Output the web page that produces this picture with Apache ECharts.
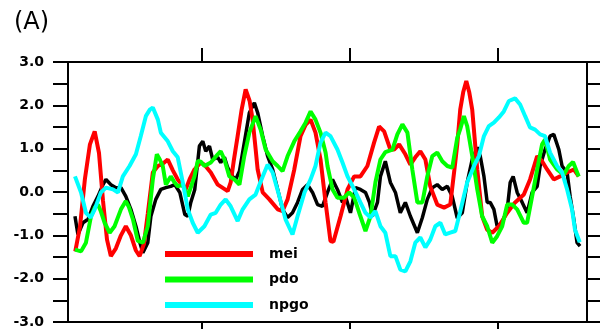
<!DOCTYPE html>
<html>
<head>
<meta charset="utf-8">
<script src="https://cdn.jsdelivr.net/npm/echarts@6/dist/echarts.min.js"></script>
<style>html,body{margin:0;padding:0;background:#fff}#c{width:600px;height:329px}</style>
</head>
<body>
<div id="c"></div>
<script>
// [decimal year, value]
const mei = [[1981.49,-1.37],[1981.81,-0.8],[1982.14,0.3],[1982.48,1.1],[1982.80,1.40],[1983.09,0.9],[1983.36,-0.2],[1983.63,-1.1],[1983.89,-1.48],[1984.23,-1.3],[1984.57,-1.0],[1984.90,-0.79],[1985.24,-1.0],[1985.58,-1.35],[1985.83,-1.48],[1986.12,-1.2],[1986.38,-0.5],[1986.72,0.45],[1987.06,0.6],[1987.39,0.65],[1987.73,0.75],[1988.07,0.5],[1988.40,0.29],[1988.94,0.06],[1989.21,0.3],[1989.53,0.52],[1989.95,0.68],[1990.20,0.63],[1990.63,0.45],[1991.10,0.17],[1991.77,0.02],[1991.97,0.22],[1992.17,0.7],[1992.44,1.29],[1992.71,1.9],[1992.98,2.37],[1993.25,2.1],[1993.45,1.67],[1993.65,1.0],[1993.79,0.52],[1994.13,-0.01],[1994.58,-0.17],[1995.14,-0.4],[1995.47,-0.44],[1995.81,-0.17],[1996.26,0.52],[1996.68,1.29],[1997.02,1.55],[1997.36,1.67],[1997.69,1.37],[1998.03,0.75],[1998.37,-0.24],[1998.70,-1.13],[1998.90,-1.15],[1999.38,-0.56],[1999.85,0.06],[2000.30,0.36],[2000.72,0.36],[2001.19,0.6],[2001.64,1.14],[2001.98,1.51],[2002.32,1.4],[2002.74,0.98],[2002.99,0.98],[2003.33,1.1],[2003.75,0.87],[2004.09,0.63],[2004.42,0.8],[2004.76,0.94],[2005.10,0.75],[2005.43,0.13],[2005.90,-0.29],[2006.36,-0.36],[2006.78,-0.29],[2007.12,0.7],[2007.25,1.1],[2007.45,1.9],[2007.65,2.3],[2007.86,2.56],[2008.06,2.3],[2008.26,1.9],[2008.60,0.52],[2008.93,-0.56],[2009.27,-0.87],[2009.61,-0.94],[2010.06,-0.79],[2010.62,-0.48],[2011.15,-0.24],[2011.74,-0.06],[2012.16,0.29],[2012.64,0.83],[2012.97,0.71],[2013.31,0.52],[2013.76,0.29],[2014.18,0.36],[2014.66,0.45],[2015.11,0.52],[2015.44,0.36]];

const pdo = [[1981.47,-1.33],[1981.88,-1.37],[1982.21,-1.17],[1982.55,-0.56],[1982.82,-0.35],[1983.02,-0.29],[1983.22,-0.45],[1983.47,-0.71],[1983.81,-0.94],[1984.14,-0.79],[1984.57,-0.4],[1984.90,-0.21],[1985.11,-0.35],[1985.38,-0.63],[1985.71,-1.13],[1986.05,-1.17],[1986.38,-0.79],[1986.72,0.29],[1986.99,0.87],[1987.19,0.75],[1987.39,0.6],[1987.60,0.17],[1987.93,0.36],[1988.13,0.25],[1988.40,0.13],[1988.74,0.17],[1989.08,-0.1],[1989.53,0.36],[1989.75,0.72],[1989.95,0.7],[1990.20,0.6],[1990.63,0.68],[1991.10,0.87],[1991.30,0.94],[1991.55,0.75],[1991.88,0.36],[1992.22,0.29],[1992.56,0.17],[1992.89,0.83],[1993.23,1.37],[1993.65,1.75],[1993.99,1.44],[1994.33,0.98],[1994.80,0.71],[1995.14,0.6],[1995.47,0.48],[1995.81,0.83],[1996.26,1.17],[1996.68,1.4],[1997.02,1.6],[1997.36,1.86],[1997.69,1.67],[1998.03,1.37],[1998.37,0.91],[1998.50,0.6],[1998.84,0.06],[1999.17,-0.13],[1999.62,-0.13],[1999.96,-0.01],[2000.30,-0.13],[2000.72,-0.56],[2001.06,-0.9],[2001.40,-0.56],[2001.73,0.22],[2002.07,0.75],[2002.40,0.92],[2002.88,0.98],[2003.21,1.33],[2003.55,1.56],[2003.89,1.37],[2004.22,0.52],[2004.56,-0.24],[2004.90,-0.24],[2005.23,0.36],[2005.57,0.83],[2005.90,0.91],[2006.24,0.71],[2006.58,0.6],[2006.91,0.56],[2007.25,1.25],[2007.45,1.45],[2007.70,1.75],[2007.92,1.52],[2008.26,0.83],[2008.60,0.06],[2008.93,-0.56],[2009.27,-0.79],[2009.61,-1.17],[2009.94,-1.02],[2010.28,-0.79],[2010.62,-0.29],[2010.95,-0.29],[2011.29,-0.4],[2011.74,-0.71],[2011.96,-0.71],[2012.30,-0.1],[2012.64,0.52],[2012.97,1.1],[2013.17,1.21],[2013.51,0.75],[2013.98,0.52],[2014.43,0.4],[2014.77,0.6],[2015.06,0.69],[2015.44,0.36]];

const npgo = [[1981.47,0.36],[1981.88,-0.01],[1982.21,-0.48],[1982.53,-0.59],[1982.80,-0.4],[1983.22,-0.01],[1983.56,0.1],[1984.03,0.06],[1984.37,-0.01],[1984.70,0.36],[1985.15,0.6],[1985.58,0.87],[1985.91,1.29],[1986.25,1.75],[1986.52,1.9],[1986.72,1.95],[1987.06,1.67],[1987.26,1.37],[1987.73,1.17],[1988.07,0.94],[1988.40,0.8],[1988.74,0.22],[1989.08,-0.4],[1989.41,-0.71],[1989.75,-0.94],[1990.20,-0.79],[1990.63,-0.52],[1990.96,-0.48],[1991.30,-0.29],[1991.63,-0.17],[1991.97,-0.33],[1992.44,-0.67],[1992.78,-0.4],[1993.23,-0.17],[1993.65,-0.06],[1994.13,0.36],[1994.46,0.63],[1994.80,0.45],[1995.25,-0.1],[1995.67,-0.63],[1996.14,-0.98],[1996.48,-0.56],[1996.95,-0.01],[1997.36,0.29],[1997.69,0.6],[1998.03,1.14],[1998.37,1.37],[1998.70,1.29],[1999.17,0.98],[1999.51,0.68],[1999.85,0.36],[2000.30,0.06],[2000.72,-0.24],[2001.06,-0.48],[2001.40,-0.59],[2001.73,-0.44],[2002.07,-0.79],[2002.40,-0.94],[2002.74,-1.48],[2003.08,-1.48],[2003.41,-1.79],[2003.75,-1.83],[2004.09,-1.6],[2004.42,-1.17],[2004.76,-1.05],[2005.10,-1.28],[2005.43,-1.1],[2005.77,-0.79],[2006.11,-0.71],[2006.44,-0.98],[2006.78,-0.94],[2007.12,-0.9],[2007.45,-0.45],[2007.92,0.22],[2008.38,0.6],[2008.71,0.83],[2009.05,1.29],[2009.38,1.52],[2009.72,1.6],[2010.06,1.72],[2010.39,1.86],[2010.73,2.1],[2011.15,2.16],[2011.49,2.02],[2011.83,1.75],[2012.16,1.49],[2012.50,1.44],[2012.84,1.33],[2013.17,1.29],[2013.51,0.91],[2013.98,0.6],[2014.32,0.45],[2014.66,0.06],[2014.99,-0.4],[2015.19,-0.87],[2015.51,-1.16]];

const index = [[1981.47,-0.56],[1981.67,-0.98],[1982.01,-0.71],[1982.35,-0.63],[1982.68,-0.33],[1983.02,-0.1],[1983.36,0.17],[1983.56,0.29],[1983.89,0.17],[1984.23,0.1],[1984.57,0.1],[1984.90,-0.1],[1985.24,-0.4],[1985.58,-0.79],[1985.85,-1.17],[1986.05,-1.4],[1986.38,-1.17],[1986.59,-0.56],[1986.92,-0.17],[1987.26,0.06],[1987.60,0.1],[1987.93,0.13],[1988.20,0.17],[1988.54,-0.01],[1988.88,-0.52],[1989.08,-0.56],[1989.28,-0.24],[1989.55,0.06],[1989.86,1.06],[1990.09,1.17],[1990.29,0.94],[1990.54,1.06],[1990.76,0.75],[1991.10,0.8],[1991.30,0.68],[1991.55,0.8],[1991.77,0.56],[1992.11,0.36],[1992.31,0.29],[1992.56,0.48],[1992.89,1.14],[1993.23,1.83],[1993.57,2.06],[1993.79,1.83],[1994.13,1.29],[1994.46,0.83],[1994.80,0.52],[1995.14,0.06],[1995.47,-0.4],[1995.81,-0.59],[1996.14,-0.48],[1996.48,-0.24],[1996.82,0.06],[1997.15,0.17],[1997.49,-0.01],[1997.83,-0.29],[1998.16,-0.33],[1998.50,-0.01],[1998.84,0.29],[1999.17,0.06],[1999.51,-0.24],[1999.71,-0.1],[2000.05,-0.48],[2000.39,0.1],[2000.72,0.06],[2001.06,-0.01],[2001.33,-0.24],[2001.53,-0.56],[2001.87,-0.24],[2002.07,0.36],[2002.40,0.71],[2002.74,0.22],[2003.08,-0.01],[2003.41,-0.48],[2003.75,-0.24],[2004.09,-0.56],[2004.56,-0.94],[2004.90,-0.59],[2005.23,-0.17],[2005.57,0.1],[2005.90,0.17],[2006.24,0.06],[2006.58,0.13],[2006.91,-0.1],[2007.25,-0.6],[2007.59,-0.48],[2007.92,0.22],[2008.26,0.75],[2008.60,1.03],[2008.80,0.83],[2009.05,0.36],[2009.27,-0.24],[2009.47,-0.24],[2009.72,-0.4],[2009.94,-0.79],[2010.28,-0.71],[2010.62,-0.4],[2010.82,0.22],[2011.02,0.36],[2011.29,-0.01],[2011.63,-0.24],[2011.96,-0.48],[2012.30,-0.01],[2012.64,0.13],[2012.84,0.6],[2013.17,0.98],[2013.51,1.29],[2013.76,1.33],[2014.10,0.98],[2014.32,0.6],[2014.66,0.45],[2014.86,-0.1],[2015.11,-0.63],[2015.33,-1.17],[2015.53,-1.25]];

const xTicks = [1990, 2000, 2010];
const legendNames = ['mei', 'pdo', 'npgo'];

const chart = echarts.init(document.getElementById('c'));
const axisStyle = {color:'#000', width:2};
const mkX = (pos) => ({
  type:'value', min:1981, max:2016, position:pos,
  axisLine:{show:true, onZero:false, lineStyle:axisStyle},
  axisTick:{show:true, customValues:xTicks, length:14, inside:false, lineStyle:axisStyle},
  axisLabel:{show:false}, splitLine:{show:false}
});
const mkY = (pos, showLabel, tl) => ({
  type:'value', min:-3, max:3, interval:0.5, position:pos,
  axisLine:{show:true, onZero:false, lineStyle:axisStyle},
  axisTick:{show:true, length:tl, inside:false, lineStyle:axisStyle},
  axisLabel:{show:showLabel, margin:24, fontSize:14, fontWeight:'bold', color:'#000', fontFamily:'DejaVu Sans',
    formatter: v => Math.abs(v - Math.round(v)) < 1e-9 ? v.toFixed(1) : ''},
  splitLine:{show:false}
});
chart.setOption({
  animation:false,
  backgroundColor:'#fff',
  title:{text:'(A)', left:9, top:6, textStyle:{fontSize:24, fontWeight:'normal', color:'#000', fontFamily:'DejaVu Sans'}},
  grid:{left:68, right:13, top:62, bottom:7},
  legend:{data:legendNames, orient:'vertical', left:165, top:246, padding:0, itemWidth:88, itemHeight:6, itemGap:9.5, icon:'rect',
    textStyle:{fontSize:14, fontWeight:'bold', color:'#000', fontFamily:'DejaVu Sans', lineHeight:16, padding:[0,0,0,11]}},
  xAxis:[mkX('bottom'), mkX('top')],
  yAxis:[mkY('left', true, 15), mkY('right', false, 13)],
  series:[
    {name:'index', type:'line', data:index, showSymbol:false, color:'#000', lineStyle:{width:3.5, color:'#000'}},
    {name:'mei', type:'line', data:mei, showSymbol:false, color:'#ff0000', lineStyle:{width:4, color:'#ff0000'}},
    {name:'pdo', type:'line', data:pdo, showSymbol:false, color:'#00ff00', lineStyle:{width:4, color:'#00ff00'}},
    {name:'npgo', type:'line', data:npgo, showSymbol:false, color:'#00ffff', lineStyle:{width:4, color:'#00ffff'}}
  ]
});
</script>
</body>
</html>
